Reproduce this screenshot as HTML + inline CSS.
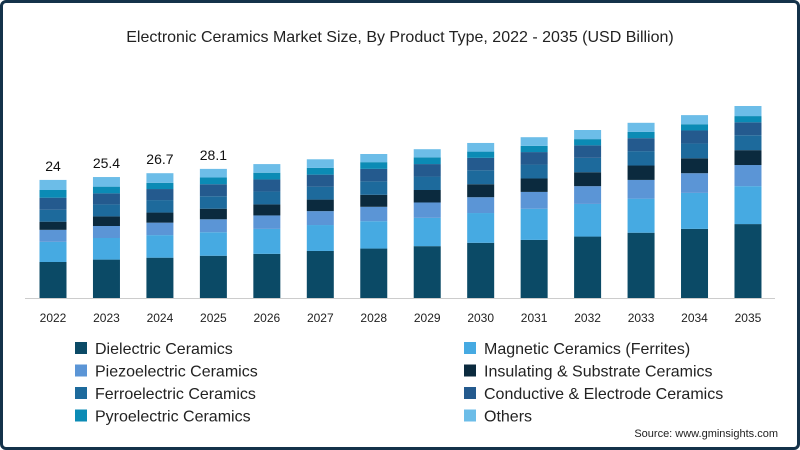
<!DOCTYPE html>
<html><head><meta charset="utf-8"><style>
body{margin:0;background:#fff}
#wrap{position:relative;width:800px;height:450px;overflow:hidden;font-family:"Liberation Sans",sans-serif;box-sizing:border-box;border:3px solid #14324a;border-radius:6px;background:#fff}
</style></head><body>
<div id="wrap">
<svg id="chart" width="800" height="450" style="position:absolute;left:-3px;top:-3px">
<text x="400" y="42" text-anchor="middle" font-size="16" fill="#222">Electronic Ceramics Market Size, By Product Type, 2022 - 2035 (USD Billion)</text>
<line x1="25" y1="298.5" x2="775" y2="298.5" stroke="#ccc"/>
<g id="bars"></g>
<g id="legend"></g>
<text x="778" y="437" text-anchor="end" font-size="11" fill="#222">Source: www.gminsights.com</text>
</svg>
</div>
<script>
const years=["2022","2023","2024","2025","2026","2027","2028","2029","2030","2031","2032","2033","2034","2035"];
const seriesNames=["Dielectric Ceramics","Magnetic Ceramics (Ferrites)","Piezoelectric Ceramics","Insulating & Substrate Ceramics","Ferroelectric Ceramics","Conductive & Electrode Ceramics","Pyroelectric Ceramics","Others"];
const dielectric=[7.5,8.0,8.4,8.8,9.2,9.8,10.3,10.8,11.5,12.1,12.8,13.6,14.4,15.4];
const magnetic=[4.2,4.5,4.7,4.9,5.2,5.4,5.7,5.9,6.2,6.5,6.8,7.1,7.5,7.9];
const piezo=[2.5,2.5,2.6,2.7,2.8,2.9,3.0,3.2,3.3,3.5,3.7,3.9,4.1,4.4];
const insulating=[1.7,2.0,2.1,2.2,2.3,2.4,2.5,2.6,2.7,2.8,2.9,3.0,3.1,3.1];
const ferro=[2.5,2.5,2.6,2.6,2.7,2.7,2.8,2.8,2.9,2.9,3.0,3.0,3.1,3.1];
const conductive=[2.5,2.3,2.3,2.5,2.5,2.5,2.6,2.6,2.6,2.6,2.6,2.7,2.7,2.7];
const pyro=[1.6,1.4,1.3,1.4,1.4,1.4,1.4,1.4,1.3,1.3,1.3,1.3,1.3,1.3];
const others=[2.1,2.0,2.0,1.8,1.8,1.8,1.7,1.7,1.8,1.8,1.9,1.9,1.9,2.1];
const labels=["24","25.4","26.7","28.1"];
const series=[dielectric,magnetic,piezo,insulating,ferro,conductive,pyro,others];
const colors=["#0b4a66","#46aae2","#5b95d6","#0b2a3e","#1d6a9c","#245a8e","#0b8bb5","#6cbde8"];
const NS="http://www.w3.org/2000/svg";
const baseY=298, pxPer=4.8, x0=53, step=53.46, bw=27;
function xScale(i){return x0+i*step;}
function yScale(v){return baseY-v*pxPer;}
const bars=document.getElementById('bars');
years.forEach((yr,i)=>{
  let acc=0;
  series.forEach((s,k)=>{
    const r=document.createElementNS(NS,'rect');
    const y1=yScale(acc+s[i]), y0=yScale(acc);
    r.setAttribute('x',xScale(i)-bw/2);r.setAttribute('y',y1);
    r.setAttribute('width',bw);r.setAttribute('height',y0-y1);
    r.setAttribute('fill',colors[k]);
    
    
    bars.appendChild(r);acc+=s[i];
  });
  if(labels[i]){
    const t=document.createElementNS(NS,'text');
    t.setAttribute('x',xScale(i));t.setAttribute('y',yScale(acc)-9);
    t.setAttribute('text-anchor','middle');t.setAttribute('font-size','14');t.setAttribute('fill','#111');
    t.textContent=labels[i];
    
    
    bars.appendChild(t);
  }
  const xt=document.createElementNS(NS,'text');
  xt.setAttribute('x',xScale(i));xt.setAttribute('y',322);
  xt.setAttribute('text-anchor','middle');xt.setAttribute('font-size','12');xt.setAttribute('fill','#222');
  xt.textContent=yr;
  
  
  bars.appendChild(xt);
});
const lg=document.getElementById('legend');
seriesNames.forEach((n,k)=>{
  const col=k%2, row=Math.floor(k/2);
  const lx=col?464:75, ly=348+row*22.5;
  const g=document.createElementNS(NS,'g');
  
  
  const r=document.createElementNS(NS,'rect');
  r.setAttribute('x',lx);r.setAttribute('y',ly-6);r.setAttribute('width',12);r.setAttribute('height',12);r.setAttribute('fill',colors[k]);
  const t=document.createElementNS(NS,'text');
  t.setAttribute('x',lx+20);t.setAttribute('y',ly+6);t.setAttribute('font-size','16');t.setAttribute('fill','#222');
  t.textContent=n;
  g.appendChild(r);g.appendChild(t);lg.appendChild(g);
});
</script>
</body></html>
